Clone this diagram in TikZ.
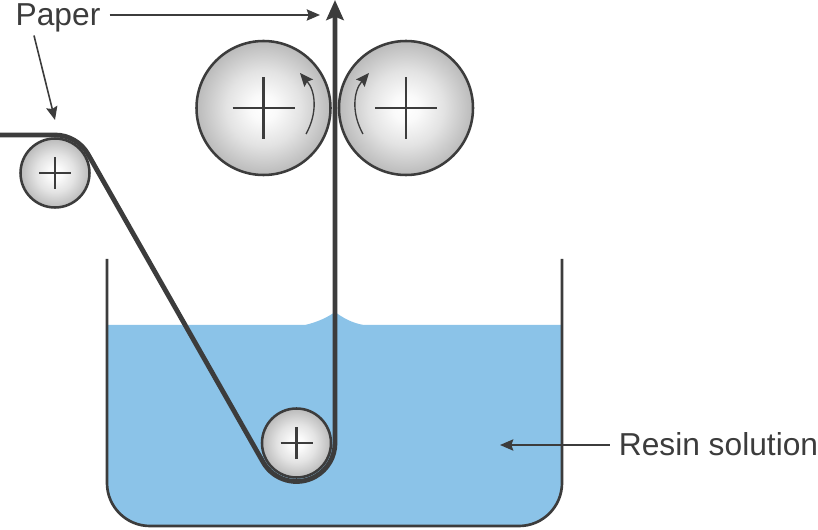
\documentclass[tikz,border=0pt]{standalone}
\usepackage{fontspec}
\setmainfont{Liberation Sans}
\usetikzlibrary{arrows.meta, calc}
\definecolor{ink}{HTML}{3C3C3C}
\definecolor{resin}{HTML}{8BC3E8}
\pgfdeclareradialshading{rollershade}{\pgfpoint{0bp}{0bp}}{color(0bp)=(white); color(5bp)=(black!2); color(14bp)=(black!11); color(25bp)=(black!27); color(50bp)=(black!27)}
\tikzset{
  roller/.style={circle,draw=ink,line width=1.9pt,inner sep=0pt,shading=rollershade},
  bigroller/.style={roller,minimum size=100.5pt},
  smallroller/.style={roller,minimum size=51.75pt},
  axle/.style={ink,line width=2pt},
  web/.style={ink,line width=3.6pt,-{Stealth[length=15pt,width=13pt,inset=2.5pt]}},
  leader/.style={ink,line width=1.2pt,-{Stealth[length=10pt,width=8.5pt,inset=1.5pt]}},
  spin/.style={ink,line width=1pt,-{Stealth[length=10pt,width=8.5pt,inset=1.5pt]}},
  tag/.style={ink,font=\fontsize{23.8}{28}\selectfont,inner sep=0pt,outer sep=7pt}
}
\begin{document}
\begin{tikzpicture}[x=.75pt,y=.75pt]
\useasboundingbox (0,0) rectangle (818,529);
% Resin in the tank, with the small rise at the web
\fill[resin] (107,204) -- (305,204) .. controls (318,207) and (328,212) .. (335,217)
  .. controls (342,212) and (351,206) .. (364,204) -- (562,204) -- (562,46)
  arc[start angle=0,end angle=-90,radius=43] -- (150,3)
  arc[start angle=270,end angle=180,radius=43] -- cycle;
% Tank walls
\draw[ink,line width=2pt] (107,270) -- (107,46) arc[start angle=180,end angle=270,radius=43]
  -- (519,3) arc[start angle=-90,end angle=0,radius=43] -- (562,270);
% Rollers
\node[bigroller] (nipleft) at (263.5,421) {};
\node[bigroller] (nipright) at (406,421) {};
\node[smallroller] (feed) at (55,356) {};
\node[smallroller] (dip) at (296.5,86) {};
% Axle crosses
\foreach \r/\a in {nipleft/31,nipright/31,feed/16,dip/16} {
  \draw[axle] ($(\r)+(-\a,0)$) -- ($(\r)+(\a,0)$);
  \draw[axle] ($(\r)+(0,-\a)$) -- ($(\r)+(0,\a)$);
}
% Paper web
\coordinate (webin) at (0,394);
\coordinate (webout) at (335,529);
\draw[web] (webin) -- ($(feed)+(0,38)$) arc[start angle=90,end angle=29.7,radius=38]
  -- ($(dip)+(209.7:38.5)$) arc[start angle=209.7,end angle=360,radius=38.5] -- (webout);
% Rotation arrows
\coordinate (spinla) at (306,395);
\coordinate (spinlb) at (300,456);
\coordinate (spinra) at (363,395);
\coordinate (spinrb) at (369,456);
\draw[spin] (spinla) to[bend right=35] (spinlb);
\draw[spin] (spinra) to[bend left=35] (spinrb);
% Labels
\node[tag] (paperlabel) at (58,511) {Paper};
\node[tag] (resinlabel) at (718.5,85) {Resin solution};
\coordinate (papertop) at (320,514);
\coordinate (paperfeed) at (55,409);
\coordinate (resinpoint) at (500,84);
\draw[leader] (paperlabel.east |- papertop) -- (papertop);
\draw[leader] ($(paperlabel.south)+(-24,6)$) -- (paperfeed);
\draw[leader] (resinlabel.west |- resinpoint) -- (resinpoint);
\end{tikzpicture}
\end{document}
